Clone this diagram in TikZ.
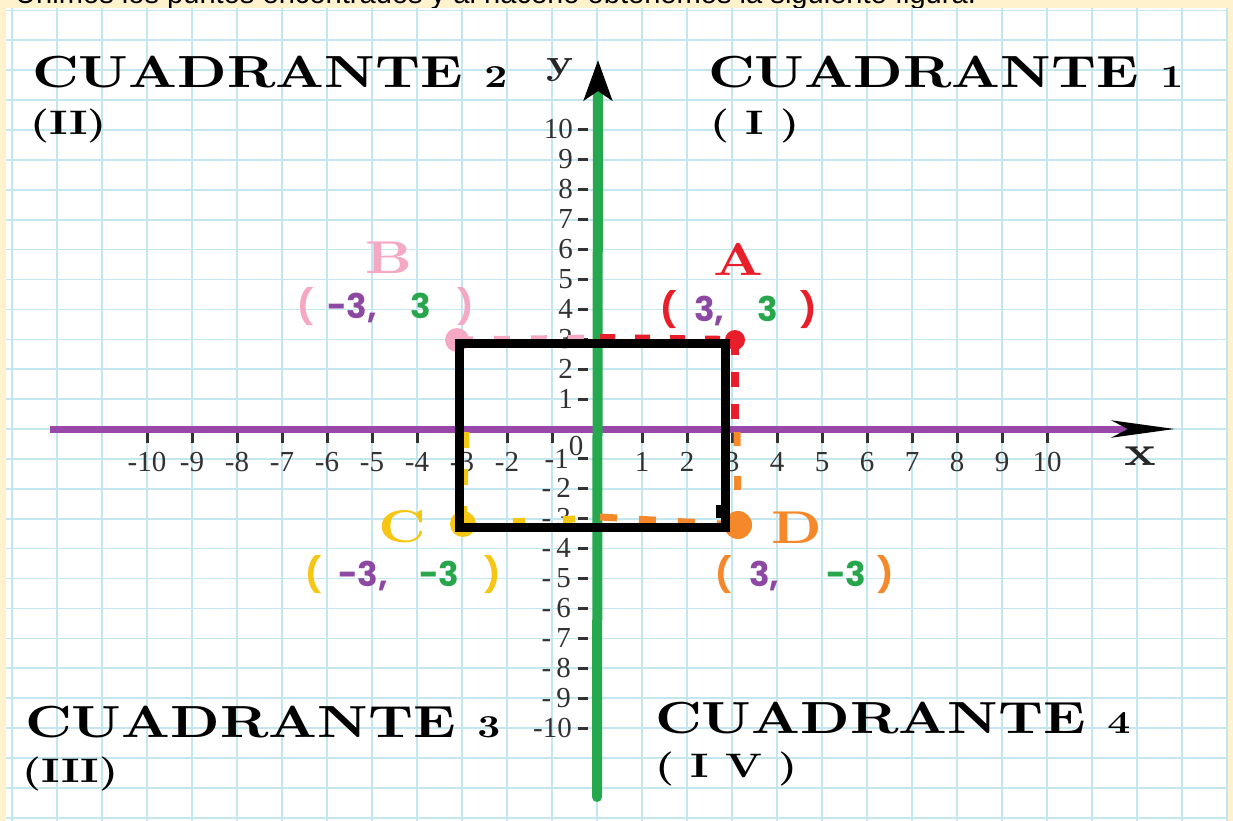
\documentclass[tikz,border=0pt]{standalone}
\usepackage{fontspec}
\usetikzlibrary{arrows.meta}
\newfontfamily\quadfont[FakeStretch=1.25]{lmroman10-bold.otf}
\newfontfamily\coordfont{Poppins}
\newfontfamily\capfont{Liberation Sans}
\newfontfamily\tickfont{Liberation Serif}
\definecolor{cream}{RGB}{255,242,204}
\definecolor{gridc}{RGB}{196,230,238}
\definecolor{axpurple}{RGB}{152,72,168}
\definecolor{axgreen}{RGB}{38,168,78}
\definecolor{ptred}{RGB}{232,30,42}
\definecolor{ptpink}{RGB}{245,168,196}
\definecolor{ptyellow}{RGB}{246,198,20}
\definecolor{ptorange}{RGB}{246,136,44}
\definecolor{numpurple}{RGB}{140,72,162}
\definecolor{numgreen}{RGB}{40,166,76}
\definecolor{ticklbl}{RGB}{50,50,50}
\tikzset{
  gridline/.style={gridc, line width=1.6pt},
  tickmark/.style={ticklbl, line width=3pt},
  ticktext/.style={ticklbl, font=\tickfont\fontsize{29}{29}\selectfont, inner sep=0pt},
  quadtext/.style={font=\quadfont\fontsize{45}{45}\selectfont, anchor=base west, inner sep=0pt},
  romtext/.style={font=\quadfont\fontsize{34}{34}\selectfont, anchor=base west, inner sep=0pt},
  coordtext/.style={font=\coordfont\bfseries\fontsize{34}{34}\selectfont, anchor=base west, inner sep=0pt},
  ptletter/.style={font=\quadfont\fontsize{46}{46}\selectfont, anchor=base, inner sep=0pt},
  axlabel/.style={black!85, anchor=base, inner sep=0pt},
  dashline/.style={line width=7pt, dash pattern=on 16pt off 21pt},
}
\begin{document}
\begin{tikzpicture}[x=1pt,y=-1pt]
\useasboundingbox (0,0) rectangle (1233,821);
\fill[cream] (0,0) rectangle (1233,821);
\node[anchor=base west, inner sep=0pt, font=\capfont\fontsize{29.1}{29.1}\selectfont] (cap) at (15,4) {Unimos los puntos encontrados y al hacerlo obtenemos la siguiente figura.};
\fill[white] (6,8) rectangle (1228,821);
% grid
\foreach \i in {-13,...,14} \draw[gridline] ({597+45*\i},8) -- ({597+45*\i},821);
\foreach \j in {-14,...,13} \draw[gridline] (6,{429+29.9*\j}) -- (1228,{429+29.9*\j});
% x axis
\coordinate (xL) at (50,429);
\coordinate (xR) at (1175,429);
\draw[axpurple, line width=7pt, -{Stealth[black,length=63pt,width=17pt,inset=16pt]}] (xL) -- (xR);
\foreach \k in {-10,...,-1,1,2,...,10} \draw[tickmark] ({597+45*\k},433) -- ({597+45*\k},443);
\foreach \k in {-10,...,-2} \node[ticktext, anchor=base] (xl\k) at ({597+45*\k},471) {\k};
\foreach \k in {1,...,10} \node[ticktext, anchor=base] (xl\k) at ({597+45*\k},471) {\k};
\node[ticktext, anchor=base east] (yl-1) at (569,468) {-1};
\node[ticktext] (zero) at (576,446) {0};
\node[axlabel, font=\quadfont\fontsize{42}{42}\selectfont] (xlab) at (1140,465) {x};
% y axis
\coordinate (yB) at (597,797);
\coordinate (yT) at (598,60);
\foreach \k in {-10,...,-1,1,2,...,10} \draw[tickmark] (578,{429-29.9*\k}) -- (588,{429-29.9*\k});
\foreach \k in {1,...,10} \node[ticktext, anchor=base east] (yl\k) at (573,{429-29.9*\k+9}) {\k};
\foreach \k in {2,...,9} \node[ticktext, anchor=base east] (yl-\k) at (571,{429+29.9*\k+9}) {-\hspace{5pt}\k};
\node[ticktext, anchor=base east] (yl-10) at (572,{429+299+9}) {-10};
\node[axlabel, font=\quadfont\fontsize{36}{36}\selectfont] (ylab) at (560,75) {y};
\draw[axgreen, line width=10pt, line cap=round, -{Stealth[black,length=40pt,width=28pt,inset=9pt]}] (yB) -- (yT);
% dashed guides
\coordinate (A) at (735,340);
\coordinate (B) at (457,340);
\coordinate (C) at (463,524);
\coordinate (D) at (738,525);
\coordinate (Ay) at (600,338);
\coordinate (Ax) at (735,430);
\coordinate (By) at (597,338);
\coordinate (Cx) at (466,432);
\coordinate (Cy) at (597,518);
\coordinate (Dy) at (600,517);
\coordinate (Dx) at (737,432);
\draw[ptpink, dashline] (B) -- (By);
\draw[ptred, dashline, line width=8pt, dash pattern=on 15pt off 20pt] (Ay) -- (A);
\draw[ptred, dashline, line width=8pt, dash pattern=on 15pt off 17pt] (A) -- (Ax);
\draw[ptyellow, dashline] (Cx) -- (C);
\draw[ptyellow, dashline, dash pattern=on 12pt off 38pt] (C) -- (Cy);
\draw[ptorange, dashline, dash pattern=on 17pt off 22pt] (Dy) -- (D);
\draw[ptorange, dashline, dash pattern=on 14pt off 30pt] (Dx) -- (D);
% dots
\fill[ptred] (A) circle (10);
\fill[ptpink] (B) circle (12);
\fill[ptyellow] (C) circle (13);
\fill[ptorange] (D) circle (14);
% black square
\coordinate (R1) at (459,343);
\coordinate (R2) at (725,527);
\draw[black, line width=9pt] (R1) rectangle (R2);
\fill[black] (716,505) rectangle (729,518);
% point letters
\node[ptletter, ptred] (Alab) at (738,275) {A};
\node[ptletter, ptpink] (Blab) at (389,273) {B};
\node[ptletter, ptyellow] (Clab) at (402,542) {C};
\node[ptletter, ptorange] (Dlab) at (797,543) {D};
% coordinates
\node[coordtext, ptred] (A1) at (660,321) {(};
\node[coordtext, numpurple] (A2) at (694,321) {3,};
\node[coordtext, numgreen] (A4) at (757,321) {3};
\node[coordtext, ptred] (A5) at (800,321) {)};
\node[coordtext, ptpink] (B1) at (297,318) {(};
\node[coordtext, numpurple] (B2) at (327,318) {-3,};
\node[coordtext, numgreen] (B4) at (410,318) {3};
\node[coordtext, ptpink] (B5) at (457,318) {)};
\node[coordtext, ptyellow] (C1) at (305,586) {(};
\node[coordtext, numpurple] (C2) at (338,586) {-3,};
\node[coordtext, numgreen] (C4) at (419,586) {-3};
\node[coordtext, ptyellow] (C5) at (484,586) {)};
\node[coordtext, ptorange] (D1) at (715,586) {(};
\node[coordtext, numpurple] (D2) at (749,586) {3,};
\node[coordtext, numgreen] (D4) at (826,586) {-3};
\node[coordtext, ptorange] (D5) at (877,586) {)};
% quadrant labels
\node[quadtext] (q2) at (32,88) {CUADRANTE {\fontsize{32}{32}\selectfont 2}};
\node[romtext] (r2) at (30,135) {(II)};
\node[quadtext] (q1) at (708,88) {CUADRANTE {\fontsize{32}{32}\selectfont 1}};
\node[romtext] (r1) at (710,135) {( I )};
\node[quadtext] (q3) at (25,737) {CUADRANTE {\fontsize{32}{32}\selectfont 3}};
\node[romtext] (r3) at (22,782) {(III)};
\node[quadtext] (q4) at (655,733) {CUADRANTE {\fontsize{32}{32}\selectfont 4}};
\node[romtext] (r4) at (655,777) {( I V )};
\end{tikzpicture}
\end{document}
